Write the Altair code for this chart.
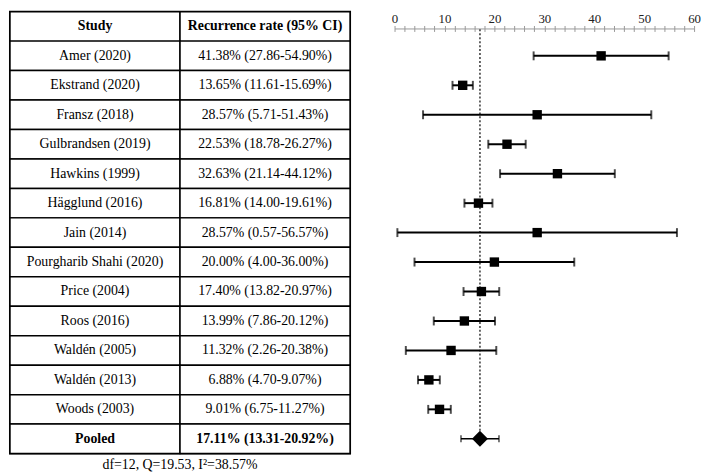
import altair as alt
import pandas as pd

# ---------------- data ----------------
studies = ["Amer (2020)", "Ekstrand (2020)", "Fransz (2018)", "Gulbrandsen (2019)",
           "Hawkins (1999)", "Hägglund (2016)", "Jain (2014)", "Pourgharib Shahi (2020)",
           "Price (2004)", "Roos (2016)", "Waldén (2005)", "Waldén (2013)", "Woods (2003)"]
rates = [41.38, 13.65, 28.57, 22.53, 32.63, 16.81, 28.57, 20.00, 17.40, 13.99, 11.32, 6.88, 9.01]
lower = [27.86, 11.61, 5.71, 18.78, 21.14, 14.00, 0.57, 4.00, 13.82, 7.86, 2.26, 4.70, 6.75]
upper = [54.90, 15.69, 51.43, 26.27, 44.12, 19.61, 56.57, 36.00, 20.97, 20.12, 20.38, 9.07, 11.27]
pooled_label = "Pooled"
pooled_rate, pooled_lower, pooled_upper = 17.11, 13.31, 20.92
headers = ["Study", "Recurrence rate (95% CI)"]
tick_values = list(range(0, 61, 2))
label_step = 10
x_domain = [0, 60]
stats_text = "df=12, Q=19.53, I\u00b2=38.57%"

# ---------------- tables ----------------
def ci_text(r, l, h):
    return f"{r:.2f}% ({l:.2f}-{h:.2f}%)"

n_rows = len(studies) + 2
table_rows = [dict(i=0, c=0, text=headers[0], bold=True),
              dict(i=0, c=1, text=headers[1], bold=True)]
for k, s in enumerate(studies):
    table_rows.append(dict(i=k + 1, c=0, text=s, bold=False))
    table_rows.append(dict(i=k + 1, c=1, text=ci_text(rates[k], lower[k], upper[k]), bold=False))
table_rows.append(dict(i=n_rows - 1, c=0, text=pooled_label, bold=True))
table_rows.append(dict(i=n_rows - 1, c=1, text=ci_text(pooled_rate, pooled_lower, pooled_upper), bold=True))
table_df = pd.DataFrame(table_rows)

forest_df = pd.DataFrame(dict(i=list(range(1, len(studies) + 1)), rate=rates, lo=lower, hi=upper))
pooled_df = pd.DataFrame(dict(i=[n_rows - 1], top=[0.1], rate=[pooled_rate], lo=[pooled_lower], hi=[pooled_upper]))

# ---------------- layout ----------------
ROW_H = 29.8
H = round(n_rows * ROW_H)
TABLE_W = 344
PLOT_W = 303
SERIF = "'Liberation Serif', 'Times New Roman', Times, 'DejaVu Serif', serif"

ys = alt.Scale(domain=[-0.5, n_rows - 0.5], reverse=True, nice=False, zero=False)
xs_t = alt.Scale(domain=[0, 2], nice=False, zero=False)
xs = alt.Scale(domain=x_domain, nice=False, zero=False)

# ---------------- table chart ----------------
base_t = alt.Chart(table_df)
cells = base_t.mark_rect(fill="white", stroke="black", strokeWidth=1.5).encode(
    x=alt.X("x0:Q", scale=xs_t, axis=None), x2="x1:Q",
    y=alt.Y("y0:Q", scale=ys, axis=None), y2="y1:Q",
).transform_calculate(x0="datum.c", x1="datum.c + 1", y0="datum.i - 0.5", y1="datum.i + 0.5")

txt_norm = base_t.mark_text(font=SERIF, fontSize=14, color="black").encode(
    x=alt.X("xc:Q", scale=xs_t, axis=None), y=alt.Y("i:Q", scale=ys, axis=None), text="text:N"
).transform_calculate(xc="datum.c + 0.5").transform_filter("!datum.bold")

txt_bold = base_t.mark_text(font=SERIF, fontSize=14, fontWeight="bold", color="black").encode(
    x=alt.X("xc:Q", scale=xs_t, axis=None), y=alt.Y("i:Q", scale=ys, axis=None), text="text:N"
).transform_calculate(xc="datum.c + 0.5").transform_filter("datum.bold")

table = alt.layer(cells, txt_norm, txt_bold).properties(
    width=TABLE_W, height=H,
    view=alt.ViewBackground(stroke="black", strokeWidth=2),
    title=alt.TitleParams(stats_text, orient="bottom", anchor="middle", font=SERIF,
                          fontSize=14, fontWeight="normal", color="black", offset=4),
)

# ---------------- forest chart ----------------
axis_main = alt.Axis(orient="top", values=tick_values, offset=-17, grid=False,
                     labelExpr=f"datum.value % {label_step} === 0 ? datum.label : ''",
                     labelFont=SERIF, labelFontSize=13, labelColor="#222", labelPadding=0,
                     labelFlush=False, labelOverlap=False, domainColor="#999", domainWidth=1,
                     tickColor="#999", tickSize=3, tickWidth=1, title=None,
                     maxExtent=10, minExtent=0)
axis_low = alt.Axis(orient="top", values=tick_values, offset=-20, grid=False, labels=False,
                    domain=False, tickColor="#999", tickSize=3, tickWidth=1, title=None,
                    maxExtent=3, minExtent=0)

dotted = alt.Chart(pooled_df).mark_rule(strokeDash=[2, 2], color="#333", strokeWidth=1.5).encode(
    x=alt.X("rate:Q", scale=xs, axis=axis_main),
    y=alt.Y("top:Q", scale=ys, axis=None), y2="i:Q",
)

fb = alt.Chart(forest_df)
bars = fb.mark_rule(color="black", strokeWidth=2).encode(
    x=alt.X("lo:Q", scale=xs, axis=axis_low), x2="hi:Q", y=alt.Y("i:Q", scale=ys, axis=None))
cap_lo = fb.mark_tick(orient="vertical", size=9, thickness=2, color="black").encode(
    x=alt.X("lo:Q", scale=xs, axis=None), y=alt.Y("i:Q", scale=ys, axis=None))
cap_hi = fb.mark_tick(orient="vertical", size=9, thickness=2, color="black").encode(
    x=alt.X("hi:Q", scale=xs, axis=None), y=alt.Y("i:Q", scale=ys, axis=None))
squares = fb.mark_square(size=90, color="black", opacity=1).encode(
    x=alt.X("rate:Q", scale=xs, axis=None), y=alt.Y("i:Q", scale=ys, axis=None))

pb = alt.Chart(pooled_df)
p_bar = pb.mark_rule(color="black", strokeWidth=1.5).encode(
    x=alt.X("lo:Q", scale=xs, axis=None), x2="hi:Q", y=alt.Y("i:Q", scale=ys, axis=None))
p_cap_lo = pb.mark_tick(orient="vertical", size=7, thickness=1.5, color="black").encode(
    x=alt.X("lo:Q", scale=xs, axis=None), y=alt.Y("i:Q", scale=ys, axis=None))
p_cap_hi = pb.mark_tick(orient="vertical", size=7, thickness=1.5, color="black").encode(
    x=alt.X("hi:Q", scale=xs, axis=None), y=alt.Y("i:Q", scale=ys, axis=None))
diamond = pb.mark_point(shape="diamond", size=260, filled=True, color="black", opacity=1).encode(
    x=alt.X("rate:Q", scale=xs, axis=None), y=alt.Y("i:Q", scale=ys, axis=None))

forest = alt.layer(dotted, bars, cap_lo, cap_hi, squares, p_bar, p_cap_lo, p_cap_hi, diamond).resolve_axis(
    x="independent").properties(width=PLOT_W, height=H)

chart = alt.hconcat(table, forest, spacing=45, bounds="flush").properties(
    padding={"left": 0, "top": -1, "right": 0, "bottom": 0}
).configure_view(strokeWidth=0)

chart.save("out.html", embed_options={"renderer": "svg", "actions": False})
